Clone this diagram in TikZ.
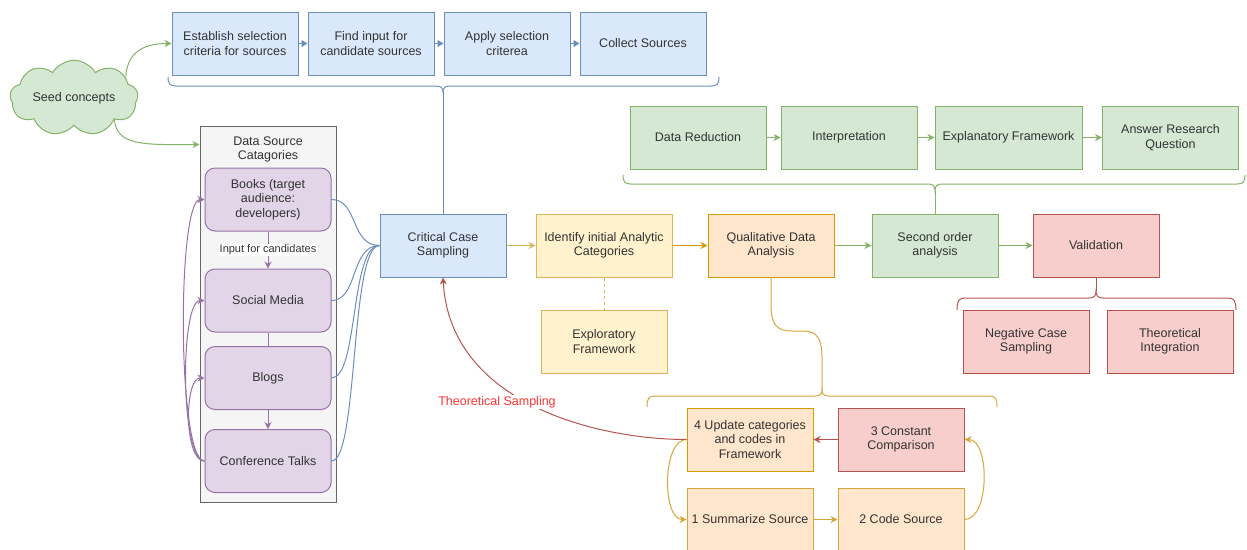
\documentclass[tikz,border=0pt]{standalone}
\usepackage{fontspec}
\setmainfont{Liberation Sans}
\usetikzlibrary{arrows.meta,shapes.symbols,calc}
\definecolor{txt}{HTML}{333333}
\definecolor{bluef}{HTML}{DAE8FC}\definecolor{blued}{HTML}{6C8EBF}
\definecolor{greenf}{HTML}{D5E8D4}\definecolor{greend}{HTML}{82B366}
\definecolor{yellf}{HTML}{FFF2CC}\definecolor{yelld}{HTML}{D6B656}
\definecolor{orf}{HTML}{FFE6CC}\definecolor{ord}{HTML}{D79B00}
\definecolor{redf}{HTML}{F8CECC}\definecolor{redd}{HTML}{B85450}
\definecolor{purf}{HTML}{E1D5E7}\definecolor{purd}{HTML}{9673A6}
\definecolor{grayf}{HTML}{F5F5F5}\definecolor{grayd}{HTML}{666666}
\definecolor{gold}{HTML}{D9A53A}
\definecolor{tsred}{HTML}{FF3333}
\begin{document}
\begin{tikzpicture}[x=1pt,y=-1pt,
  every node/.style={font=\fontsize{12.5}{14.5}\selectfont, text=txt},
  box/.style={draw, line width=1pt, minimum width=126pt, minimum height=63pt, align=center, inner sep=2pt},
  bluebox/.style={box, fill=bluef, draw=blued},
  greenbox/.style={box, fill=greenf, draw=greend},
  yellbox/.style={box, fill=yellf, draw=yelld},
  orbox/.style={box, fill=orf, draw=ord},
  goldbox/.style={box, fill=orf, draw=gold},
  redbox/.style={box, fill=redf, draw=redd},
  purbox/.style={box, fill=purf, draw=purd, rounded corners=10pt},
  conn/.style={line width=1pt},
  arr/.style={conn, -{Stealth[length=7pt,width=7pt]}},
  blk/.style={conn, -{Triangle[length=6pt,width=7pt]}},
  brace/.style={line width=1pt}
]
\useasboundingbox (0,0) rectangle (1247,549);
\clip (0,0) rectangle (1247,549);

% source selection steps
\node[bluebox] (est) at (235,43.5) {Establish selection\\criteria for sources};
\node[bluebox] (find) at (371,43.5) {Find input for\\candidate sources};
\node[bluebox] (apply) at (507,43.5) {Apply selection\\criterea};
\node[bluebox] (collect) at (643,43.5) {Collect Sources};
\foreach \a/\b in {est/find,find/apply,apply/collect}
  \draw[blk, draw=blued, fill=blued] (\a.east) -- (\b.west);

% seed concepts
\node[cloud, cloud puffs=9, cloud puff arc=120, aspect=2.1, draw=greend, fill=greenf, line width=1pt,
      minimum width=128pt, minimum height=62pt, inner sep=0pt] (seed) at (74,98) {Seed concepts};

% data source categories
\node[draw=grayd, fill=grayf, line width=1pt, minimum width=136pt, minimum height=376pt] (dsc) at (268,314) {};
\node[align=center] (dsctitle) at (268,149.5) {Data Source\\Catagories};
\node[purbox] (books) at (268,199.5) {Books (target\\audience:\\developers)};
\node[purbox] (social) at (268,300.5) {Social Media};
\node[purbox] (blogs) at (268,378) {Blogs};
\node[purbox] (conf) at (268,461) {Conference Talks};

\draw[arr, draw=greend] (seed.22) .. controls (127,55) and (140,43.5) .. (est.west);
\draw[arr, draw=greend] (seed.-28) .. controls (117,145) and (140,145) .. ($(dsc.north west)+(0,19)$);

\draw[arr, draw=purd] (books.south) -- node[fill=white, inner sep=1pt, font=\fontsize{11}{13}\selectfont] (inlab) {Input for candidates} (social.north);
\draw[conn, draw=purd] (social.south) -- (blogs.north);
\draw[arr, draw=purd] (blogs.south) -- (conf.north);
\draw[arr, draw=purd] (conf.west) .. controls (177,461) and (177,199.5) .. (books.west);
\draw[arr, draw=purd] (conf.west) .. controls (180,461) and (180,300.5) .. (social.west);
\draw[arr, draw=purd] (conf.west) .. controls (184,461) and (184,378) .. (blogs.west);

% main analysis chain
\node[bluebox] (ccs) at (443,245.5) {Critical Case\\Sampling};
\node[yellbox, minimum width=136pt] (ident) at (604,245.5) {Identify initial Analytic\\Categories};
\node[yellbox] (explo) at (604,341.5) {Exploratory\\Framework};
\node[orbox] (qda) at (771,245.5) {Qualitative Data\\Analysis};
\node[greenbox] (second) at (935,245.5) {Second order\\analysis};
\node[redbox] (valid) at (1096,245.5) {Validation};
\node[redbox] (neg) at (1026,341.5) {Negative Case\\Sampling};
\node[redbox] (theo) at (1170,341.5) {Theoretical\\Integration};

\foreach \s in {books,social,blogs,conf}
  \draw[conn, draw=blued] (\s.east) .. controls ($(\s.east)+(27,0)$) and (350,245.5) .. (ccs.west);

\draw[arr, draw=yelld] (ccs.east) -- (ident.west);
\draw[arr, draw=ord] (ident.east) -- (qda.west);
\draw[arr, draw=greend] (qda.east) -- (second.west);
\draw[arr, draw=greend] (second.east) -- (valid.west);
\draw[conn, draw=yelld, dashed] (ident.south) -- (explo.north);

% second order analysis steps
\node[greenbox, minimum width=136pt] (dr) at (698,137.5) {Data Reduction};
\node[greenbox, minimum width=136pt] (interp) at (849,137.5) {Interpretation};
\node[greenbox, minimum width=147pt] (explan) at (1008.5,137.5) {Explanatory Framework};
\node[greenbox, minimum width=136pt] (answer) at (1170.5,137.5) {Answer Research\\Question};
\foreach \a/\b in {dr/interp,interp/explan,explan/answer}
  \draw[arr, draw=greend] (\a.east) -- (\b.west);

% coding cycle
\node[orbox] (upd) at (750,439.5) {4 Update categories\\and codes in\\Framework};
\node[redbox] (const) at (901,439.5) {3 Constant\\Comparison};
\node[goldbox] (summ) at (750,519.5) {1 Summarize Source};
\node[goldbox] (code) at (901,519.5) {2 Code Source};
\draw[arr, draw=redd] (const.west) -- (upd.east);
\draw[arr, draw=gold] (summ.east) -- (code.west);
\draw[arr, draw=gold] (upd.west) .. controls (662,439.5) and (662,519.5) .. (summ.west);
\draw[arr, draw=gold] (code.east) .. controls (990,519.5) and (990,439.5) .. (const.east);

% theoretical sampling feedback
\draw[arr, draw=redd] (upd.west) .. controls (600,439.5) and (450,405) .. (ccs.south);
\node[fill=white, inner sep=1pt, text=tsred] (tslab) at (497,402) {Theoretical Sampling};

% braces
\coordinate (btip) at (443,92);
\draw[brace, draw=blued] (168,77) .. controls (168,84) and (170,86) .. (176,86) -- (436,86)
  .. controls (441,86) and (443,88) .. (btip) .. controls (443,88) and (445,86) .. (450,86)
  -- (711,86) .. controls (717,86) and (719,84) .. (719,77);
\draw[conn, draw=blued] (btip) -- (ccs.north);

\coordinate (gtip) at (935,191);
\draw[brace, draw=greend] (623,175) .. controls (623,182) and (625,184) .. (631,184) -- (928,184)
  .. controls (933,184) and (935,186) .. (gtip) .. controls (935,186) and (937,184) .. (942,184)
  -- (1237,184) .. controls (1243,184) and (1245,182) .. (1245,175);
\draw[conn, draw=greend] (gtip) -- (second.north);

\coordinate (rtip) at (1096,291);
\draw[brace, draw=redd] (957,310) .. controls (957,301) and (959,298) .. (965,298) -- (1089,298)
  .. controls (1094,298) and (1096,296) .. (rtip) .. controls (1096,296) and (1098,298) .. (1103,298)
  -- (1228,298) .. controls (1234,298) and (1236,301) .. (1236,310);
\draw[conn, draw=redd] (valid.south) -- (rtip);

\coordinate (qtip) at (822,390);
\draw[brace, draw=gold] (647,407) .. controls (647,398) and (649,396) .. (655,396) -- (815,396)
  .. controls (820,396) and (822,394) .. (qtip) .. controls (822,394) and (824,396) .. (829,396)
  -- (989,396) .. controls (995,396) and (997,398) .. (997,407);
\draw[conn, draw=gold] (qda.south) -- (771,305) .. controls (771,326) and (778,331) .. (792,331)
  -- (803,331) .. controls (818,331) and (822,340) .. (822,358) -- (qtip);
\end{tikzpicture}
\end{document}
